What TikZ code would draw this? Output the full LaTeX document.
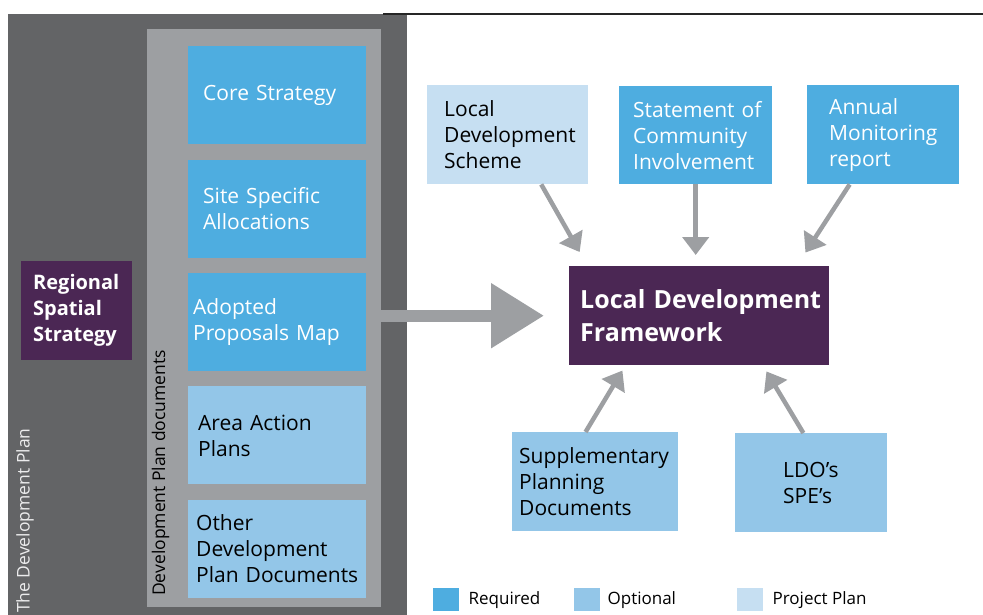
\documentclass[tikz,border=0pt]{standalone}
\usepackage{fontspec}
\setmainfont{Open Sans}
\usetikzlibrary{arrows.meta,positioning,calc}
\hyphenpenalty=10000
\exhyphenpenalty=10000

\definecolor{planGrey}{HTML}{636466}
\definecolor{docGrey}{HTML}{9D9FA2}
\definecolor{reqBlue}{HTML}{4EADE0}
\definecolor{optBlue}{HTML}{93C6E8}
\definecolor{projBlue}{HTML}{C6DFF2}
\definecolor{ldfPurple}{HTML}{4B2754}

\tikzset{
  box/.style={anchor=north west, align=left, minimum height=98pt, inner ysep=0pt, font=\fontsize{21}{26}\selectfont},
  required/.style={box, fill=reqBlue, text=white},
  optional/.style={box, fill=optBlue, text=black},
  project/.style={box, fill=projBlue, text=black},
  headbox/.style={box, fill=ldfPurple, text=white, minimum height=99pt},
  keybox/.style={minimum width=26pt, minimum height=23pt, inner sep=0pt, anchor=north west},
  keytext/.style={inner sep=0pt, font=\fontsize{17}{20}\selectfont},
  sidelabel/.style={rotate=90, anchor=base west, inner sep=0pt, font=\fontsize{17.5}{20}\selectfont},
  feed/.style={draw=docGrey, line width=4.5pt, -{Triangle[width=26pt,length=18pt]}},
}

\begin{document}
\begin{tikzpicture}[x=1pt, y=-1pt]
                \useasboundingbox (0,0) rectangle (983,615);

                % Panels
                \fill[planGrey] (8,14) rectangle (407,615);
                \fill[docGrey] (147,29) rectangle (381,607);
                \draw[line width=1.3pt, black!85] (383,14) -- (983,14);

                % Development plan documents
                \node (core) [required, inner xsep=15pt, text width=148pt] at (188,46) {Core~Strategy};
                \node (site) [required, below=15pt of core, inner xsep=15pt, text width=148pt] {Site~Specific\\Allocations};
                \node (adopted) [required, below=15pt of site, inner xsep=5pt, text width=168pt] {Adopted\\Proposals~Map};
                \node (area) [optional, below=15pt of adopted, inner xsep=10pt, text width=158pt] {Area~Action\\Plans};
                \node (other) [optional, below=15pt of area, inner xsep=8pt, text width=162pt] {Other\\Development\\Plan~Documents};

                % Side labels
                \node (rss) [headbox, inner xsep=12pt, text width=87pt, font=\bfseries\fontsize{20}{26}\selectfont] at (21,261) {Regional\\Spatial\\Strategy};
                \node (devplan) [sidelabel, text=white!88!planGrey] at (29.5,613) {The Development Plan};
                \node (dpdocs) [sidelabel, text=black] at (165,596) {Development Plan documents};

                % Framework
                \node (ldf) [headbox, inner xsep=11pt, text width=238pt, font=\bfseries\fontsize{25}{33}\selectfont] at (569,266) {Local~Development\\Framework};

                % Top row
                \node (lds) [project, minimum height=99pt, inner xsep=17pt, text width=127pt] at (427,85) {Local\\Development\\Scheme};
                \node (sci) [required, inner xsep=14pt, text width=125pt] at (619,86) {Statement~of\\Community\\Involvement};
                \node (amr) [required, minimum height=99pt, inner xsep=22pt, text width=108pt] at (807,85) {Annual\\Monitoring\\report};

                % Bottom row
                \node (spd) [optional, minimum height=99pt, inner xsep=7pt, text width=152pt] at (512,432) {Supplementary\\Planning\\Documents};
                \node (ldo) [optional, minimum height=99pt, inner xsep=48pt, text width=56pt] at (735,433) {LDO’s\\SPE’s};

                % Key
                \node (reqkey) [keybox, fill=reqBlue] at (433,588) {};
                \node (reqtext) [keytext, right=9pt of reqkey] {Required};
                \node (optkey) [keybox, fill=optBlue] at (574,588) {};
                \node (opttext) [keytext, right=7pt of optkey] {Optional};
                \node (projkey) [keybox, fill=projBlue] at (737,588) {};
                \node (projtext) [keytext, right=9pt of projkey] {Project Plan};

                % Connections
                \draw[draw=docGrey, line width=12pt, -{Triangle[width=62pt,length=53pt]}, shorten >=25pt] (ldf.west -| adopted.east) -- (ldf.west);
                \draw[feed, shorten >=16pt] (lds.-56) -- (ldf.156);
                \draw[feed, shorten >=11pt] (sci.south) -- (sci.south |- ldf.north);
                \draw[feed, shorten >=16pt] (amr.-124) -- (ldf.27);
                \draw[feed, shorten >=6pt] (spd.101) -- (ldf.-146);
                \draw[feed, shorten >=7pt] (ldo.99) -- (ldf.-38);
            \end{tikzpicture}
\end{document}
